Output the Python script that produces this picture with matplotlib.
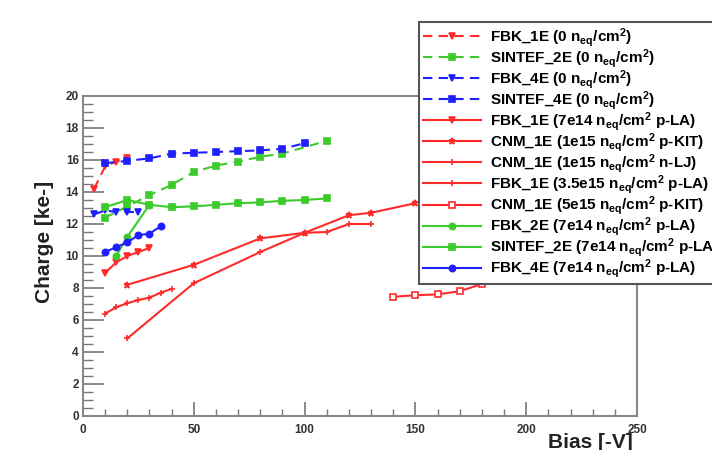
import matplotlib
matplotlib.use("Agg")
import matplotlib.pyplot as plt
from matplotlib.ticker import MultipleLocator

plt.rcParams['font.family'] = ['Liberation Sans', 'DejaVu Sans']
plt.rcParams['font.weight'] = 'bold'
plt.rcParams['mathtext.fontset'] = 'custom'
plt.rcParams['mathtext.rm'] = 'Liberation Sans:bold'
plt.rcParams['mathtext.bf'] = 'Liberation Sans:bold'
plt.rcParams['mathtext.default'] = 'bf'

RED = '#ff2b2b'
GREEN = '#3ccb2c'
BLUE = '#1f1fff'

# unirradiated (dashed)
fbk1e_0_bias = [5, 10, 15, 20]
fbk1e_0_charge = [14.2, 15.6, 15.9, 16.1]
sintef2e_0_bias = [10, 20, 30, 40, 50, 60, 70, 80, 90, 110]
sintef2e_0_charge = [12.4, 13.1, 13.8, 14.45, 15.25, 15.65, 15.9, 16.2, 16.4, 17.2]
fbk4e_0_bias = [5, 10, 15, 20, 25]
fbk4e_0_charge = [12.6, 12.85, 12.75, 12.75, 12.75]
sintef4e_0_bias = [10, 20, 30, 40, 50, 60, 70, 80, 90, 100]
sintef4e_0_charge = [15.8, 15.95, 16.1, 16.4, 16.45, 16.5, 16.55, 16.6, 16.7, 17.05]

# irradiated (solid)
fbk1e_7e14_bias = [10, 15, 20, 25, 30]
fbk1e_7e14_charge = [8.95, 9.6, 10.0, 10.25, 10.5]
cnm1e_1e15k_bias = [20, 50, 80, 100, 120, 130, 150]
cnm1e_1e15k_charge = [8.2, 9.45, 11.1, 11.45, 12.55, 12.7, 13.3]
cnm1e_1e15l_bias = [20, 50, 80, 100, 110, 120, 130]
cnm1e_1e15l_charge = [4.85, 8.3, 10.25, 11.45, 11.5, 12.0, 12.0]
fbk1e_35e15_bias = [10, 15, 20, 25, 30, 35, 40]
fbk1e_35e15_charge = [6.4, 6.8, 7.05, 7.25, 7.4, 7.7, 7.95]
cnm1e_5e15_bias = [140, 150, 160, 170, 180]
cnm1e_5e15_charge = [7.45, 7.55, 7.6, 7.8, 8.25]
fbk2e_7e14_bias = [15, 20, 30]
fbk2e_7e14_charge = [10.0, 11.2, 13.2]
sintef2e_7e14_bias = [10, 20, 30, 40, 50, 60, 70, 80, 90, 100, 110]
sintef2e_7e14_charge = [13.05, 13.5, 13.2, 13.05, 13.1, 13.2, 13.3, 13.35, 13.45, 13.5, 13.6]
fbk4e_7e14_bias = [10, 15, 20, 25, 30, 35]
fbk4e_7e14_charge = [10.25, 10.55, 10.85, 11.3, 11.4, 11.85]

neq = r'n$_{\mathbf{eq}}$/cm$^{\mathbf{2}}$'
series = [
    (fbk1e_0_bias, fbk1e_0_charge, RED, '--', 'v', 'FBK_1E (0 ' + neq + ')'),
    (sintef2e_0_bias, sintef2e_0_charge, GREEN, '--', 's', 'SINTEF_2E (0 ' + neq + ')'),
    (fbk4e_0_bias, fbk4e_0_charge, BLUE, '--', 'v', 'FBK_4E (0 ' + neq + ')'),
    (sintef4e_0_bias, sintef4e_0_charge, BLUE, '--', 's', 'SINTEF_4E (0 ' + neq + ')'),
    (fbk1e_7e14_bias, fbk1e_7e14_charge, RED, '-', 'v', 'FBK_1E (7e14 ' + neq + ' p-LA)'),
    (cnm1e_1e15k_bias, cnm1e_1e15k_charge, RED, '-', '*', 'CNM_1E (1e15 ' + neq + ' p-KIT)'),
    (cnm1e_1e15l_bias, cnm1e_1e15l_charge, RED, '-', '+', 'CNM_1E (1e15 ' + neq + ' n-LJ)'),
    (fbk1e_35e15_bias, fbk1e_35e15_charge, RED, '-', '+', 'FBK_1E (3.5e15 ' + neq + ' p-LA)'),
    (cnm1e_5e15_bias, cnm1e_5e15_charge, RED, '-', 's', 'CNM_1E (5e15 ' + neq + ' p-KIT)'),
    (fbk2e_7e14_bias, fbk2e_7e14_charge, GREEN, '-', 'o', 'FBK_2E (7e14 ' + neq + ' p-LA)'),
    (sintef2e_7e14_bias, sintef2e_7e14_charge, GREEN, '-', 's', 'SINTEF_2E (7e14 ' + neq + ' p-LA)'),
    (fbk4e_7e14_bias, fbk4e_7e14_charge, BLUE, '-', 'o', 'FBK_4E (7e14 ' + neq + ' p-LA)'),
]

fig = plt.figure(figsize=(7.12, 4.5), dpi=100)
ax = fig.add_axes([83 / 712, 1 - 416 / 450, (637 - 83) / 712, (416 - 96) / 450])

handles = []
for x, y, c, ls, m, lab in series:
    mfc = 'white' if lab.startswith('CNM_1E (5e15') else c
    ms = 5 if m == 's' else 4.5
    h, = ax.plot(x, y, color=c, ls=ls, lw=1.5, marker=m, ms=ms, mfc=mfc,
                 mec=c, mew=1.2, label=lab)
    if ls == '--':
        h.set_dashes((4.5, 3))
    handles.append(h)

ax.set_xlim(0, 250)
ax.set_ylim(0, 20)
ax.xaxis.set_major_locator(MultipleLocator(50))
ax.xaxis.set_minor_locator(MultipleLocator(10))
ax.yaxis.set_major_locator(MultipleLocator(2))
ax.yaxis.set_minor_locator(MultipleLocator(0.5))
ax.tick_params(which='both', direction='in', colors='#777', labelcolor='#333',
               labelsize=8.5)
ax.tick_params(axis='x', which='major', length=10, width=1.2, pad=6)
ax.tick_params(axis='x', which='minor', length=5, width=1)
ax.tick_params(axis='y', which='major', length=15, width=1.2, pad=3)
ax.tick_params(axis='y', which='minor', length=7, width=1)
for s in ax.spines.values():
    s.set_color('#888')
    s.set_linewidth(1.5)

fig.text(45 / 712, 1 - 242 / 450, 'Charge [ke-]', rotation=90, ha='center',
         va='center', fontsize=15, fontweight='bold', color='#222')
fig.text(633 / 712, 1 - 442 / 450, 'Bias [-V]', ha='right', va='center',
         fontsize=15, fontweight='bold', color='#222')

leg = fig.legend(handles=handles, loc='upper left',
                 bbox_to_anchor=(419 / 712, 1 - 22 / 450),
                 bbox_transform=fig.transFigure, fontsize=11,
                 handlelength=3.8, handletextpad=0.6, borderpad=0.25,
                 labelspacing=-0.12, borderaxespad=0, fancybox=False,
                 framealpha=1, edgecolor='#555')
leg.get_frame().set_linewidth(1.5)

fig.savefig('out.png', dpi=100)
